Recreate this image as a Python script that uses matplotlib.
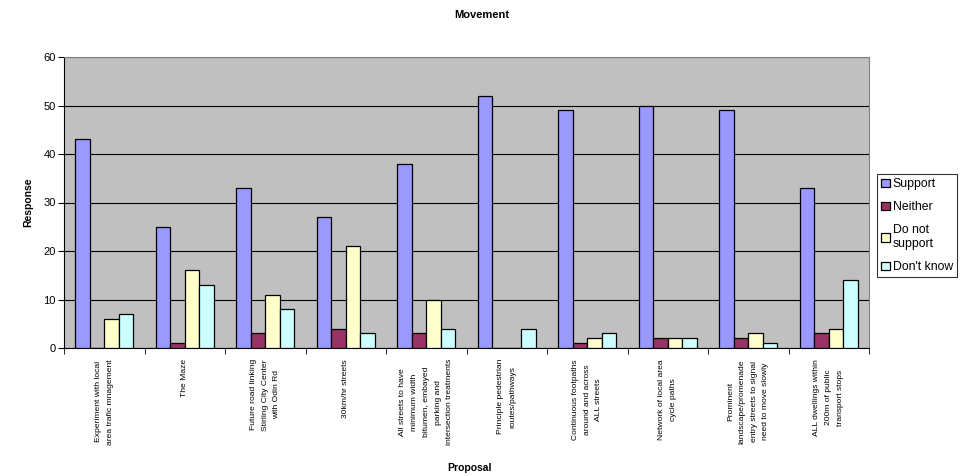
import matplotlib.pyplot as plt
import numpy as np

plt.rcParams['font.family'] = ['Liberation Sans', 'DejaVu Sans']

proposals = [
    'Experiment with local\narea trafic mnagement',
    'The Maze',
    'Future road linking\nStirling City Center\nwith Odin Rd',
    '30km/hr streets',
    'All streets to have\nminimum width\nbitumen, embayed\nparking and\nintersection treatments',
    'Principle pedestrian\nroutes/pathways',
    'Continuous footpaths\naround and across\nALL streets',
    'Network of local area\ncycle paths',
    'Prominent\nlandscape/promenade\nentry streets to signal\nneed to move slowly',
    'ALL dwellings within\n200m of public\ntransport stops',
]
support        = [43, 25, 33, 27, 38, 52, 49, 50, 49, 33]
neither        = [0, 1, 3, 4, 3, 0, 1, 2, 2, 3]
do_not_support = [6, 16, 11, 21, 10, 0, 2, 2, 3, 4]
dont_know      = [7, 13, 8, 3, 4, 4, 3, 2, 1, 14]

series = [
    ('Support', support, '#9999FF'),
    ('Neither', neither, '#993366'),
    ('Do not\nsupport', do_not_support, '#FFFFCC'),
    ("Don't know", dont_know, '#CCFFFF'),
]

W, H = 964, 476
fig = plt.figure(figsize=(W / 100, H / 100), dpi=100)
ax = fig.add_axes([64 / W, 1 - 348 / H, (869 - 64) / W, (348 - 57) / H])
ax.set_facecolor('#C0C0C0')

x = np.arange(len(proposals))
bw = 0.18
for i, (name, vals, col) in enumerate(series):
    ax.bar(x + (i - 1.5) * bw, vals, bw, color=col, edgecolor='black',
           linewidth=0.9, label=name, zorder=3)

ax.set_xlim(-0.5, len(proposals) - 0.5)
ax.set_ylim(0, 60)
ax.set_yticks(range(0, 61, 10))
ax.yaxis.grid(True, color='black', linewidth=0.8, zorder=1)
ax.tick_params(axis='y', direction='out', length=4, labelsize=8, pad=2)

# category labels sit between boundary ticks
ax.set_xticks(x)
ax.set_xticklabels(proposals, rotation=90, fontsize=6.1, linespacing=1.95,
                   va='top', ha='center', multialignment='center')
ax.tick_params(axis='x', which='major', length=0, pad=8)
ax.set_xticks(np.arange(-0.5, len(proposals), 1), minor=True)
ax.tick_params(axis='x', which='minor', direction='out', length=4)

for s in ['left', 'bottom']:
    ax.spines[s].set_color('black')
for s in ['top', 'right']:
    ax.spines[s].set_color('#808080')

ax.set_ylabel('Response', fontsize=7.5, fontweight='bold', labelpad=7)
fig.text(470 / W, 1 - 468 / H, 'Proposal', fontsize=7.5, fontweight='bold',
         ha='center', va='center')
fig.text(482 / W, 1 - 15 / H, 'Movement', fontsize=8, fontweight='bold',
         ha='center', va='center')

leg = ax.legend(loc='upper left', bbox_to_anchor=(877 / W, 1 - 174 / H),
                bbox_transform=fig.transFigure, borderaxespad=0,
                fontsize=8.8, frameon=True, fancybox=False,
                handlelength=0.7, handleheight=0.7, handletextpad=0.25,
                labelspacing=0.9, borderpad=0.35)
leg.get_frame().set_edgecolor('black')
leg.get_frame().set_linewidth(0.8)

fig.savefig('out.png', dpi=100)
